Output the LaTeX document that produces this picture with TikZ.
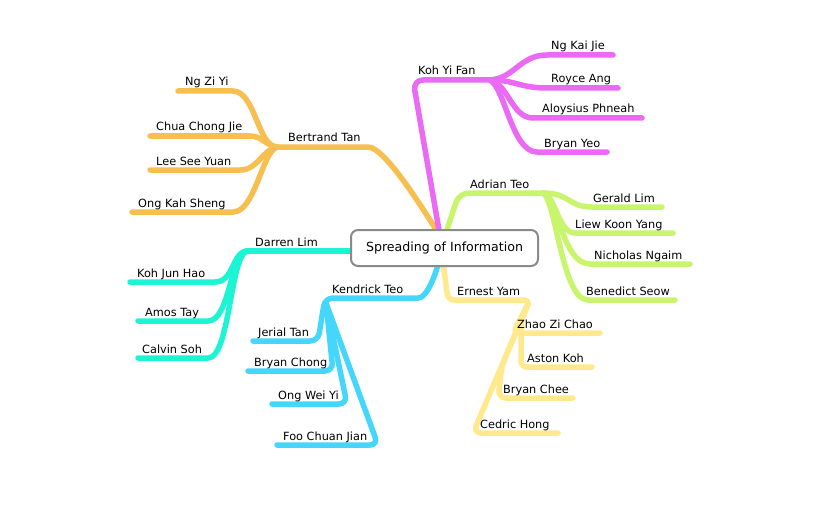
\documentclass[tikz,border=0pt]{standalone}
\usepackage{fontspec}
\setmainfont{DejaVu Sans}
\definecolor{cMag}{HTML}{EB6AF5}
\definecolor{cOr}{HTML}{F6BF4F}
\definecolor{cGr}{HTML}{C8F56C}
\definecolor{cCy}{HTML}{1BF5D3}
\definecolor{cBl}{HTML}{45D6FC}
\definecolor{cYe}{HTML}{FFE98C}
\definecolor{cBox}{HTML}{8A8A8A}
\begin{document}
\begin{tikzpicture}[x=1pt,y=-1pt,
  br/.style={line width=5.5pt,line cap=round,line join=round},
  lbl/.style={anchor=base west,inner sep=0pt,font=\fontsize{11.3}{13}\selectfont},
  rootbox/.style={draw=cBox,line width=2pt,rounded corners=7pt,fill=white,
    minimum width=187pt,minimum height=36pt,inner sep=0pt,font=\fontsize{12.6}{15}\selectfont}]
\useasboundingbox (0,0) rectangle (816,516);
% hubs
\coordinate (hubN) at (440,236);
\coordinate (hubNE) at (445,236);
\coordinate (hubW) at (360,251);
\coordinate (hubS) at (439,262);
\coordinate (hubSE) at (443,262);
% ---------- orange: Bertrand Tan
\coordinate (bt) at (277,147);
\draw[br,cOr] (hubN) .. controls (425,212) and (385,147) .. (368,147) -- (bt);
\draw[br,cOr] (bt) .. controls (258,147) and (255,91) .. (233,91) -- (178,91);
\draw[br,cOr] (bt) .. controls (265,145) and (262,136) .. (250,136) -- (150,136);
\draw[br,cOr] (bt) .. controls (262,150) and (258,170) .. (240,170) -- (150,170);
\draw[br,cOr] (bt) .. controls (262,152) and (255,212) .. (233,212) -- (132,212);
\node[lbl] (nBT) at (288,142) {Bertrand Tan};
\node[lbl] (nNZY) at (185,86) {Ng Zi Yi};
\node[lbl] (nCCJ) at (156,131) {Chua Chong Jie};
\node[lbl] (nLSY) at (156,165) {Lee See Yuan};
\node[lbl] (nOKS) at (138,207) {Ong Kah Sheng};
% ---------- magenta: Koh Yi Fan
\coordinate (kyf) at (490,80);
\draw[br,cMag,rounded corners=10pt] (hubN) -- (413,80) -- (kyf);
\draw[br,cMag] (kyf) .. controls (515,78) and (520,55) .. (547,55) -- (613,55);
\draw[br,cMag] (kyf) .. controls (515,80) and (520,88) .. (547,88) -- (618,88);
\draw[br,cMag] (kyf) .. controls (508,84) and (512,118) .. (533,118) -- (642,118);
\draw[br,cMag] (kyf) .. controls (505,88) and (512,152) .. (537,152) -- (607,152);
\node[lbl] (nKYF) at (418,75) {Koh Yi Fan};
\node[lbl] (nNKJ) at (551,50) {Ng Kai Jie};
\node[lbl] (nRA) at (551,83) {Royce Ang};
\node[lbl] (nAP) at (542,113) {Aloysius Phneah};
\node[lbl] (nBY) at (544,147) {Bryan Yeo};
% ---------- green: Adrian Teo
\coordinate (at) at (543,193);
\draw[br,cGr,rounded corners=10pt] (hubNE) -- (459,193) -- (at);
\draw[br,cGr] (at) .. controls (570,193) and (568,207) .. (592,207) -- (662,207);
\draw[br,cGr] (at) .. controls (556,196) and (558,233) .. (575,233) -- (673,233);
\draw[br,cGr] (at) .. controls (558,198) and (562,264) .. (590,264) -- (690,264);
\draw[br,cGr] (at) .. controls (556,200) and (562,300) .. (588,300) -- (675,300);
\node[lbl] (nAT) at (470,188) {Adrian Teo};
\node[lbl] (nGL) at (593,202) {Gerald Lim};
\node[lbl] (nLKY) at (575,228) {Liew Koon Yang};
\node[lbl] (nNN) at (594,259) {Nicholas Ngaim};
\node[lbl] (nBS) at (586,295) {Benedict Seow};
% ---------- cyan: Darren Lim
\coordinate (dl) at (247,251);
\draw[br,cCy] (hubW) -- (dl);
\draw[br,cCy] (dl) .. controls (232,252) and (234,282) .. (215,282) -- (130,282);
\draw[br,cCy] (dl) .. controls (230,254) and (230,321) .. (208,321) -- (138,321);
\draw[br,cCy] (dl) .. controls (230,256) and (230,358) .. (208,358) -- (138,358);
\node[lbl] (nDL) at (255,246) {Darren Lim};
\node[lbl] (nKJH) at (137,277) {Koh Jun Hao};
\node[lbl] (nAmT) at (145,316) {Amos Tay};
\node[lbl] (nCS) at (142,353) {Calvin Soh};
% ---------- blue: Kendrick Teo
\coordinate (kt) at (325,298);
\coordinate (kt2) at (326,303);
\draw[br,cBl,rounded corners=8pt] (hubS) .. controls (432,285) and (425,298) .. (410,298) -- (kt) -- (318,341) -- (253,341);
\draw[br,cBl,rounded corners=8pt] (kt2) -- (333,371) -- (248,371);
\draw[br,cBl,rounded corners=8pt] (kt2) -- (347,404) -- (272,404);
\draw[br,cBl,rounded corners=8pt] (kt2) -- (378,445) -- (277,445);
\node[lbl] (nKT) at (332,293) {Kendrick Teo};
\node[lbl] (nJT) at (258,336) {Jerial Tan};
\node[lbl] (nBC) at (254,366) {Bryan Chong};
\node[lbl] (nOWY) at (278,399) {Ong Wei Yi};
\node[lbl] (nFCJ) at (283,440) {Foo Chuan Jian};
% ---------- yellow: Ernest Yam
\coordinate (ey) at (530,300);
\coordinate (ey2) at (528,304);
\draw[br,cYe,rounded corners=6pt] (hubSE) -- (448,300) -- (ey) -- (513,333) -- (600,333);
\draw[br,cYe,rounded corners=6pt] (ey2) -- (521,322) -- (521,367) -- (592,367);
\draw[br,cYe,rounded corners=8pt] (ey2) -- (502,365) -- (498,398) -- (573,398);
\draw[br,cYe,rounded corners=8pt] (ey2) -- (473,433) -- (558,433);
\node[lbl] (nEY) at (457,295) {Ernest Yam};
\node[lbl] (nZZC) at (517,328) {Zhao Zi Chao};
\node[lbl] (nAK) at (527,362) {Aston Koh};
\node[lbl] (nBCh) at (503,393) {Bryan Chee};
\node[lbl] (nCH) at (480,428) {Cedric Hong};
% ---------- root
\node[rootbox] (root) at (444.5,248) {Spreading of Information};
\end{tikzpicture}
\end{document}
